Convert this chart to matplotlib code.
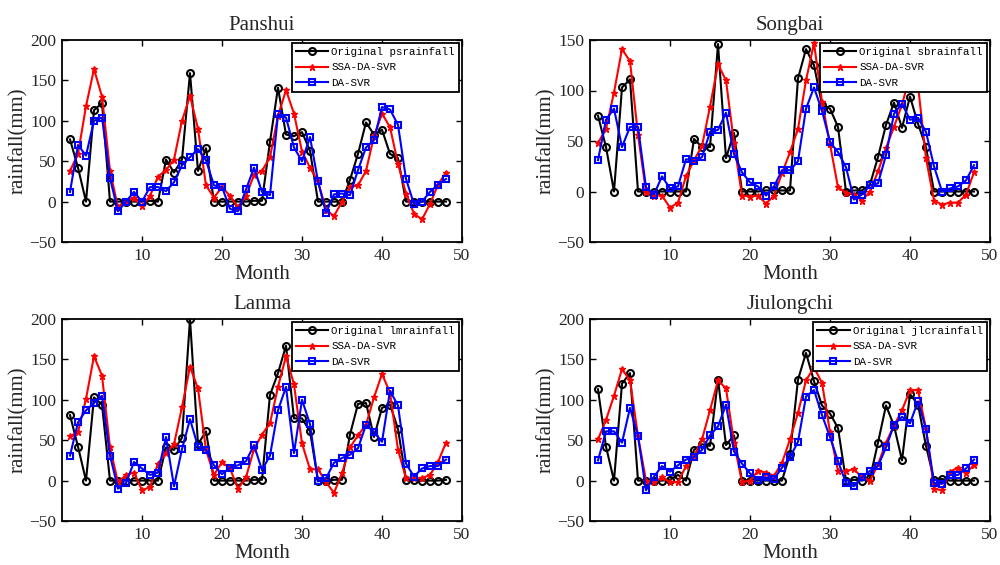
import matplotlib
matplotlib.use("Agg")
import matplotlib.pyplot as plt
import numpy as np

months = list(range(1, 49))

titles = ["Panshui", "Songbai", "Lanma", "Jiulongchi"]
orig_labels = ["Original psrainfall", "Original sbrainfall",
               "Original lmrainfall", "Original jlcrainfall"]
model_labels = ["SSA-DA-SVR", "DA-SVR"]

panshui_orig = [77, 42, 0, 113, 122, 0, 0, 0, 0, 0,
                1, 0, 52, 36, 52, 159, 38, 66, 0, 0,
                0, 0, 0, 1, 1, 74, 141, 83, 81, 86,
                63, 0, 0, 0, 0, 27, 59, 98, 83, 89,
                59, 54, 0, 0, 0, 0, 0, 0]
panshui_ssa = [38, 59, 118, 164, 130, 38, -7, 0, 5, -6,
               7, 31, 39, 52, 100, 131, 90, 20, 5, 18,
               7, -7, 7, 33, 38, 55, 106, 138, 109, 62,
               42, 25, -10, -18, 0, 18, 20, 38, 81, 109,
               92, 47, 10, -15, -22, -3, 21, 36]
panshui_da = [12, 70, 57, 100, 104, 29, -12, 0, 12, 0,
              18, 18, 13, 24, 45, 55, 65, 51, 20, 18,
              -9, -12, 15, 42, 12, 8, 108, 104, 67, 50,
              80, 25, -14, 9, 10, 8, 39, 67, 76, 117,
              114, 95, 28, -3, 0, 12, 21, 28]

songbai_orig = [75, 44, 0, 103, 111, 0, 0, 0, 0, 0,
                0, 0, 52, 44, 44, 146, 33, 58, 0, 0,
                0, 1, 1, 1, 1, 112, 141, 125, 86, 82,
                64, 0, 1, 1, 7, 34, 66, 88, 63, 94,
                67, 44, 0, 0, 0, 0, 0, 0]
songbai_ssa = [48, 62, 98, 141, 129, 56, 0, -4, -4, -16,
               -11, 15, 31, 45, 84, 126, 110, 48, -4, -5,
               -4, -12, -4, 18, 39, 62, 110, 147, 89, 47,
               4, -1, -3, -9, 0, 20, 43, 64, 86, 115,
               105, 33, -9, -13, -11, -11, -3, 19]
songbai_da = [31, 71, 82, 44, 64, 64, 4, -3, 15, 3,
              5, 32, 30, 34, 59, 61, 78, 37, 19, 9,
              5, -4, 5, 21, 21, 30, 82, 103, 80, 49,
              39, 24, -8, -3, 6, 8, 36, 77, 87, 71,
              73, 59, 25, 0, 3, 5, 11, 26]

lanma_orig = [81, 42, 0, 103, 94, 0, 0, 0, 0, 0,
              0, 0, 41, 38, 53, 200, 45, 61, 0, 0,
              0, 0, 0, 1, 1, 106, 133, 167, 77, 77,
              61, 0, 0, 1, 1, 57, 95, 96, 54, 90,
              94, 64, 1, 1, 0, 0, 0, 1]
lanma_ssa = [55, 60, 101, 154, 130, 41, -2, 7, 10, -12,
             -8, 21, 34, 45, 91, 141, 114, 38, 7, 23,
             15, -10, 4, 39, 57, 71, 116, 154, 119, 46,
             14, 14, -2, -15, 9, 41, 56, 69, 103, 132,
             109, 38, 3, 3, 3, 7, 23, 47]
lanma_da = [31, 72, 87, 96, 105, 31, -10, -3, 23, 15,
            7, 10, 54, -7, 39, 76, 42, 38, 19, 8,
            16, 19, 24, 44, 13, 31, 87, 116, 34, 100,
            70, -1, 3, 22, 28, 32, 40, 69, 60, 48,
            111, 93, 21, 5, 15, 18, 18, 26]

jiulongchi_orig = [113, 42, 0, 120, 133, 0, 0, 0, 0, 1,
                   7, 0, 38, 45, 43, 125, 44, 56, 0, 0,
                   0, 0, 0, 0, 33, 125, 158, 123, 93, 83,
                   65, 0, 1, 0, 3, 47, 93, 68, 25, 107,
                   94, 43, 1, 2, 0, 0, 0, 0]
jiulongchi_ssa = [51, 75, 105, 138, 124, 55, 0, -2, 4, -2,
                  -2, 18, 30, 51, 87, 124, 114, 47, -2, 0,
                  12, 10, 6, 22, 51, 84, 124, 140, 121, 60,
                  12, 12, 14, 4, 0, 20, 47, 68, 87, 112,
                  112, 64, -10, -12, 11, 16, 10, 19]
jiulongchi_da = [25, 61, 61, 47, 90, 55, -12, 5, 18, 11,
                 19, 26, 29, 38, 56, 67, 94, 36, 21, 9,
                 1, 4, 2, 16, 29, 48, 104, 112, 81, 54,
                 24, -3, -7, 4, 12, 18, 41, 69, 79, 71,
                 98, 64, -3, -4, 7, 7, 15, 26]

xticks = [10, 20, 30, 40, 50]
yticks_200 = [-50, 0, 50, 100, 150, 200]
yticks_150 = [-50, 0, 50, 100, 150]

panels = [
    (panshui_orig, panshui_ssa, panshui_da, yticks_200),
    (songbai_orig, songbai_ssa, songbai_da, yticks_150),
    (lanma_orig, lanma_ssa, lanma_da, yticks_200),
    (jiulongchi_orig, jiulongchi_ssa, jiulongchi_da, yticks_200),
]

W, H = 1000, 565
fig = plt.figure(figsize=(W / 100, H / 100), dpi=100)

# axes boxes in pixels: (left, top, width, height)
boxes = [(62, 40, 400, 202), (590, 40, 400, 202),
         (62, 319, 400, 202), (590, 319, 400, 202)]

text_font = "Liberation Serif"
legend_font = "Liberation Mono"
tick_font = "Liberation Serif"
text_color = "#262626"

for i, (box, (o, s, d, yt)) in enumerate(zip(boxes, panels)):
    l, t, w, h = box
    ax = fig.add_axes([l / W, 1 - (t + h) / H, w / W, h / H])
    ax.plot(months, o, color="black", lw=1.5, marker="o", ms=5,
            mfc="none", mec="black", mew=1.5, label=orig_labels[i])
    ax.plot(months, s, color="red", lw=1.5, marker="*", ms=4.5,
            mfc="red", mec="red", mew=1.0, label=model_labels[0])
    ax.plot(months, d, color="blue", lw=1.5, marker="s", ms=5,
            mfc="none", mec="blue", mew=1.5, label=model_labels[1])
    ax.set_xlim(0, 50)
    ax.set_ylim(yt[0], yt[-1])
    ax.set_xticks(xticks)
    ax.set_yticks(yt)
    ax.tick_params(direction="in", top=True, right=True, length=4,
                   width=1.0, labelsize=12.5, pad=4, colors=text_color)
    ax.tick_params(color="black")
    for lab in ax.get_xticklabels() + ax.get_yticklabels():
        lab.set_fontfamily(tick_font)
    for sp in ax.spines.values():
        sp.set_linewidth(1.3)
    ax.set_title(titles[i], fontfamily=text_font, fontsize=15,
                 color=text_color, pad=7)
    ax.set_xlabel("Month", fontfamily=text_font, fontsize=15,
                  color=text_color, labelpad=1)
    ax.set_ylabel("rainfall(mm)", fontfamily=text_font, fontsize=15,
                  color=text_color, labelpad=1)
    leg = ax.legend(loc="upper right", prop={"family": legend_font, "size": 7.8},
                    frameon=True, fancybox=False, shadow=False,
                    borderaxespad=0.3, handlelength=3.0, handletextpad=0.3,
                    labelspacing=0.5, borderpad=0.35)
    leg.get_frame().set_edgecolor("black")
    leg.get_frame().set_linewidth(1.3)
    leg.get_frame().set_alpha(1)

fig.savefig("out.png", dpi=100)
